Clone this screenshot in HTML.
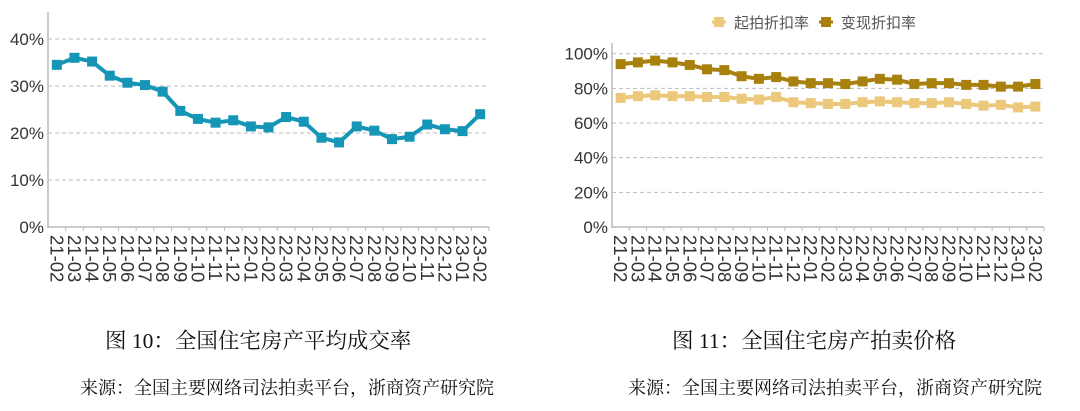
<!DOCTYPE html>
<html><head><meta charset="utf-8"><style>
body{margin:0;background:#fff;width:1080px;height:411px;overflow:hidden;font-family:"Liberation Sans","Noto Sans CJK SC",sans-serif}
.cap{position:absolute;font-family:"Liberation Serif","Noto Serif CJK SC",serif;color:#111;white-space:nowrap}
</style></head><body>
<svg id="c" width="1080" height="411" style="position:absolute;left:0;top:0"></svg>
<div class="cap" style="left:105px;top:324px;font-size:21.5px">图 10：全国住宅房产平均成交率</div>
<div class="cap" style="left:672px;top:324px;font-size:21.5px">图 11：全国住宅房产拍卖价格</div>
<div class="cap" style="left:80px;top:374px;font-size:18px">来源：全国主要网络司法拍卖平台，浙商资产研究院</div>
<div class="cap" style="left:628px;top:374px;font-size:18px">来源：全国主要网络司法拍卖平台，浙商资产研究院</div>
<script>
const categories=["21-02","21-03","21-04","21-05","21-06","21-07","21-08","21-09","21-10","21-11","21-12","22-01","22-02","22-03","22-04","22-05","22-06","22-07","22-08","22-09","22-10","22-11","22-12","23-01","23-02"];
const dealRate=[34.5,36,35.2,32.2,30.7,30.2,28.8,24.7,23,22.2,22.7,21.4,21.2,23.4,22.4,19,18,21.4,20.5,18.7,19.2,21.8,20.8,20.4,24];
const startDiscount=[74.5,75.5,76,75.5,75.5,75,75,74,73.5,75,72,71.5,71,71,72,72.5,72,71.5,71.5,72,71,70,70.5,69,69.5];
const realizeDiscount=[94,95,96,95,93.5,91,90.5,87,85.5,86.5,84,83,83,82.5,84,85.5,85,82.5,83,83,82,82,81,81,82.5];
const leftTicks=[0,10,20,30,40];
const rightTicks=[0,20,40,60,80,100];
const svg=document.getElementById('c');
const NS='http://www.w3.org/2000/svg';
function mk(t,a,p){const e=document.createElementNS(NS,t);for(const k in a)e.setAttribute(k,a[k]);(p||svg).appendChild(e);return e;}
function chart(cfg){
  const {x0,x1,y0,yTop,maxV,ticks}=cfg;
  const bw=(x1-x0)/categories.length;
  const xs=i=>x0+bw*(i+.5);
  const ys=v=>y0-(v/maxV)*(y0-yTop);
  ticks.forEach(t=>{
    if(t>0){const g=mk('line',{x1:x0,x2:x1,y1:ys(t),y2:ys(t),stroke:'#bbb','stroke-dasharray':'4,3'});
    
    }
    const tx=mk('text',{x:x0-4,y:ys(t)+6,'text-anchor':'end','font-size':'17',fill:'#333'});
    tx.textContent=t+'%';
    
    
  });
  mk('line',{x1:x0,x2:x0,y1:cfg.axisTop,y2:y0+1,stroke:'#bbb','stroke-width':1.5});
  mk('line',{x1:x0,x2:x1,y1:y0,y2:y0,stroke:'#bbb','stroke-width':1.5});
  categories.forEach((c,i)=>{
    mk('line',{x1:x0+bw*(i+1),x2:x0+bw*(i+1),y1:y0,y2:y0+4,stroke:'#bbb'});
    const tx=mk('text',{x:0,y:0,'font-size':'18.5',fill:'#333',transform:`translate(${xs(i)-6.5},${y0+8}) rotate(90)`});
    tx.textContent=c;
    
    
  });
  cfg.series.forEach(s=>{
    const p=mk('polyline',{points:s.data.map((v,i)=>xs(i)+','+ys(v)).join(' '),fill:'none',stroke:s.color,'stroke-width':4,'stroke-linejoin':'round'});
    
    
    s.data.forEach((v,i)=>{
      const r=mk('rect',{x:xs(i)-5,y:ys(v)-5,width:10,height:10,fill:s.color});
      
      
    });
  });
}
chart({x0:48,x1:489,y0:227,yTop:39,maxV:40,axisTop:12,ticks:leftTicks,series:[{name:'deal-rate',data:dealRate,color:'#1696b6'}]});
chart({x0:612,x1:1044,y0:227,yTop:53.7,maxV:100,axisTop:43,ticks:rightTicks,series:[{name:'start-discount',data:startDiscount,color:'#ebc87a'},{name:'realize-discount',data:realizeDiscount,color:'#a8800e'}]});
const lg=[['起拍折扣率','#ebc87a',713],['变现折扣率','#a8800e',820]];
lg.forEach(l=>{
  mk('line',{x1:l[2]-1,x2:l[2]+13,y1:22,y2:22,stroke:l[1],'stroke-width':3});
  mk('rect',{x:l[2]+1,y:17,width:10,height:10,fill:l[1]});
  const t=mk('text',{x:l[2]+21,y:28,'font-size':'15',fill:'#555'});
  t.textContent=l[0];
  
  
});
</script>
</body></html>
